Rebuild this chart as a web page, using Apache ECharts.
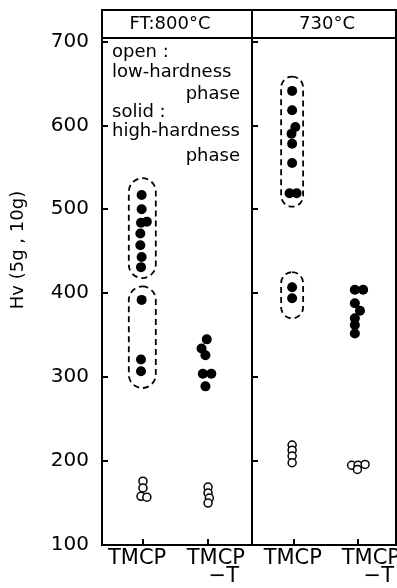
<!DOCTYPE html>
<html>
<head>
<meta charset="utf-8">
<script src="https://cdn.jsdelivr.net/npm/echarts@6/dist/echarts.min.js"></script>
<style>
html,body{margin:0;padding:0;background:#fff;}
#c{width:397px;height:588px;}
</style>
</head>
<body>
<div id="c"></div>
<script>
// ---- data ----
const categories = ['TMCP', 'TMCP-T'];
const panelTitles = ['FT:800°C', '730°C'];
const yTicks = [100, 200, 300, 400, 500, 600, 700];
const yName = 'Hv (5g , 10g)';
const legendLines = ['open :', 'low-hardness', 'phase', 'solid :', 'high-hardness', 'phase'];

// [category index (+ small observed jitter), Hv]
const ft800HighTMCP = [[-0.02, 517], [-0.02, 500], [-0.03, 484], [0.06, 485], [-0.04, 471], [-0.04, 457], [-0.02, 443], [-0.03, 431], [-0.02, 392], [-0.03, 321], [-0.03, 307]];
const ft800HighTMCPT = [[0.98, 345], [0.9, 334], [0.96, 326], [0.92, 304], [1.05, 304], [0.96, 289]];
const ft800Low = [[0, 176], [0, 168], [-0.03, 158], [0.06, 157], [1, 169], [1, 162], [1.02, 156], [1.0, 150]];
const t730HighTMCP = [[-0.03, 641], [-0.03, 618], [0.02, 598], [-0.04, 590], [-0.03, 578], [-0.03, 555], [-0.07, 519], [0.04, 519], [-0.03, 407], [-0.03, 394]];
const t730HighTMCPT = [[0.95, 404], [1.08, 404], [0.95, 388], [1.03, 379], [0.95, 370], [0.95, 362], [0.95, 352]];
const t730Low = [[-0.03, 219], [-0.03, 213], [-0.03, 206], [-0.03, 198], [0.9, 195], [1.0, 195], [1.11, 196], [0.99, 190]];
// dashed groupings: [category, low Hv, high Hv]
const ft800Boxes = [[-0.01, 418, 537], [-0.01, 287, 408]];
const t730Boxes = [[-0.03, 503, 658], [-0.03, 370, 425]];

// ---- layout ----
const FONT = 'DejaVu Sans';
const grids = [
  { left: 102, top: 38, width: 150, height: 507 },
  { left: 252, top: 38, width: 144, height: 507 }
];
const xRanges = [[-0.629, 1.675], [-0.657, 1.593]];
const tickPos = [0, 1];
const labelPos = [[-0.09, 1.12], [-0.02, 1.2]];
const boxWidths = [27, 22];

const chart = echarts.init(document.getElementById('c'), null, { renderer: 'canvas' });

function xAxisFor(i) {
  return {
    gridIndex: i, type: 'value', min: xRanges[i][0], max: xRanges[i][1], position: 'bottom',
    axisLine: { show: true, onZero: false, lineStyle: { color: '#000', width: 2 } },
    axisTick: { show: true, inside: true, length: 6, lineStyle: { color: '#000', width: 2 }, customValues: tickPos },
    splitLine: { show: false },
    axisLabel: {
      customValues: labelPos[i], margin: 5, color: '#000', hideOverlap: false,
      formatter: v => {
        const c = categories[Math.round(v)];
        const parts = c.split('-');
        return parts.length > 1 ? '{a|' + parts[0] + '}\n{b|−' + parts[1] + '}' : '{a|' + c + '}';
      },
      rich: {
        a: { fontFamily: FONT, fontSize: 21, color: '#000', lineHeight: 18 },
        b: { fontFamily: FONT, fontSize: 21, color: '#000', lineHeight: 18, align: 'right', padding: [0, 6, 0, 0] }
      }
    }
  };
}
function yAxisFor(i) {
  return {
    gridIndex: i, type: 'value', min: 100, max: 704, position: 'left',
    axisLine: { show: true, onZero: false, lineStyle: { color: '#000', width: 2 } },
    axisTick: { show: true, inside: true, length: 6, lineStyle: { color: '#000', width: 2 }, customValues: yTicks },
    splitLine: { show: false },
    axisLabel: { show: i === 0, customValues: yTicks, margin: 13, fontFamily: FONT, fontSize: 20, color: '#000' }
  };
}
function boxSeries(i, data) {
  return {
    type: 'custom', xAxisIndex: i, yAxisIndex: i, data: data, z: 1, silent: true,
    renderItem: (params, api) => {
      const top = api.coord([api.value(0), api.value(2)]);
      const bot = api.coord([api.value(0), api.value(1)]);
      const w = boxWidths[i];
      return {
        type: 'rect',
        shape: { x: top[0] - w / 2, y: top[1], width: w, height: bot[1] - top[1], r: w / 2 },
        style: { fill: 'none', stroke: '#000', lineWidth: 1.8, lineDash: [6, 4] }
      };
    }
  };
}
function filled(i, data) {
  return { type: 'scatter', xAxisIndex: i, yAxisIndex: i, data: data, symbol: 'circle', symbolSize: 10, z: 3,
    itemStyle: { color: '#000', opacity: 1 } };
}
function open(i, data) {
  return { type: 'scatter', xAxisIndex: i, yAxisIndex: i, data: data, symbol: 'circle', symbolSize: 8, z: 3,
    itemStyle: { color: '#fff', borderColor: '#000', borderWidth: 1.5, opacity: 1 } };
}

const legendY = [52, 72, 94, 112, 131, 156];
const graphics = [
  { type: 'rect', shape: { x: 102, y: 10, width: 294, height: 28 }, style: { fill: 'none', stroke: '#000', lineWidth: 2 } },
  { type: 'line', shape: { x1: 252, y1: 10, x2: 252, y2: 38 }, style: { stroke: '#000', lineWidth: 2 } },
  { type: 'text', x: 170, y: 24, style: { text: panelTitles[0], font: '18px "DejaVu Sans"', fill: '#000', align: 'center', verticalAlign: 'middle' } },
  { type: 'text', x: 327, y: 24, style: { text: panelTitles[1], font: '18px "DejaVu Sans"', fill: '#000', align: 'center', verticalAlign: 'middle' } },
  { type: 'text', x: 18, y: 250, rotation: Math.PI / 2, style: { text: yName, font: '18px "DejaVu Sans"', fill: '#000', align: 'center', verticalAlign: 'middle' } }
];
legendLines.forEach((t, k) => {
  const right = t === 'phase';
  graphics.push({ type: 'text', x: right ? 240 : 112, y: legendY[k],
    style: { text: t, font: '18px "DejaVu Sans"', fill: '#000', align: right ? 'right' : 'left', verticalAlign: 'middle' } });
});

chart.setOption({
  animation: false,
  backgroundColor: '#fff',
  grid: grids.map(g => Object.assign({ show: true, borderColor: '#000', borderWidth: 2, backgroundColor: 'transparent', outerBoundsMode: 'none', containLabel: false }, g)),
  xAxis: [xAxisFor(0), xAxisFor(1)],
  yAxis: [yAxisFor(0), yAxisFor(1)],
  series: [
    boxSeries(0, ft800Boxes), boxSeries(1, t730Boxes),
    filled(0, ft800HighTMCP), filled(0, ft800HighTMCPT), open(0, ft800Low),
    filled(1, t730HighTMCP), filled(1, t730HighTMCPT), open(1, t730Low)
  ],
  graphic: graphics
});
</script>
</body>
</html>
